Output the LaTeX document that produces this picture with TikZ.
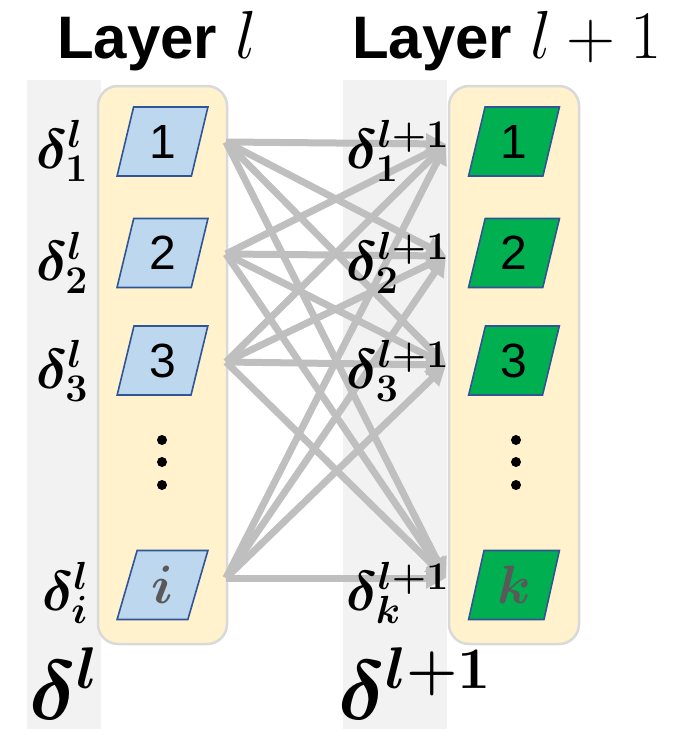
\RequirePackage{fix-cm}
\documentclass[tikz,border=0pt]{standalone}
\usepackage{bm}
\usepackage{fontspec}
\newfontfamily\sansfont{Liberation Sans}
\usetikzlibrary{shapes.geometric,arrows.meta}

\definecolor{stripgray}{HTML}{F2F2F2}
\definecolor{layerfill}{HTML}{FFF2CC}
\definecolor{layeredge}{HTML}{D9D9D9}
\definecolor{cellblue}{HTML}{BDD7EE}
\definecolor{cellgreen}{HTML}{00B050}
\definecolor{celledge}{HTML}{2F5597}
\definecolor{linkgray}{HTML}{BFBFBF}
\definecolor{indexgray}{HTML}{595959}

\newcommand{\mathbig}[1]{{\fontsize{68}{68}\selectfont$#1$}}

\tikzset{
  layerbox/.style={draw=layeredge, fill=layerfill, line width=2.5pt,
    rounded corners=20pt, inner sep=0pt},
  cell/.style={trapezium, trapezium left angle=77, trapezium right angle=103,
    trapezium stretches=true, minimum width=91pt, minimum height=69pt,
    draw=celledge, line width=1.6pt, inner sep=0pt,
    font=\sansfont\fontsize{48}{48}\selectfont},
  idx/.style={font=\fontsize{54}{54}\selectfont, text=indexgray},
  link/.style={draw=linkgray, line width=7pt,
    -{Triangle[length=20pt,width=20pt]}},
  vdot/.style={circle, fill=black, minimum size=10pt, inner sep=0pt},
  lab/.style={inner sep=0pt, font=\fontsize{56}{56}\selectfont},
  biglab/.style={inner sep=0pt, font=\fontsize{84}{84}\selectfont},
  title/.style={inner sep=0pt, font=\sansfont\bfseries\fontsize{60}{60}\selectfont},
}

\begin{document}
\begin{tikzpicture}[x=1pt,y=-1pt]
\useasboundingbox (0,0) rectangle (697,736);

% shaded columns behind the delta labels
\fill[stripgray] (27,80) rectangle (101,729);
\fill[stripgray] (343,80) rectangle (447,729);

% layer containers
\node[layerbox, minimum width=129pt, minimum height=558pt] (layerA) at (162.5,365) {};
\node[layerbox, minimum width=130pt, minimum height=558pt] (layerB) at (514,365) {};

% titles
\node[title, anchor=base west] (titleA) at (57,58) {Layer\hspace{18pt}\mathbig{l}};
\node[title, anchor=base west] (titleB) at (352,58) {Layer\hspace{18pt}\mathbig{l+1}};

% connector end points
\coordinate (s1) at (226,142);
\coordinate (s2) at (226,254);
\coordinate (s3) at (226,362);
\coordinate (si) at (226,578);
\coordinate (t1) at (446,144);
\coordinate (t2) at (446,256);
\coordinate (t3) at (446,365);
\coordinate (tk) at (446,578);

% full connections between the two layers
\foreach \s in {s1,s2,s3,si}
  \foreach \t in {t1,t2,t3,tk}
    \draw[link] (\s) -- (\t);

% neurons of layer l
\node[cell, fill=cellblue] (a1) at (162.5,141.5) {1};
\node[cell, fill=cellblue] (a2) at (162.5,253) {2};
\node[cell, fill=cellblue] (a3) at (162.5,360.5) {3};
\node[cell, fill=cellblue, idx] (ai) at (162.5,585) {$\bm{i}$};

% neurons of layer l+1
\node[cell, fill=cellgreen] (b1) at (514,141.5) {1};
\node[cell, fill=cellgreen] (b2) at (514,253) {2};
\node[cell, fill=cellgreen] (b3) at (514,360.5) {3};
\node[cell, fill=cellgreen, idx] (bk) at (514,585) {$\bm{k}$};

% vertical ellipses
\node[vdot] (ea1) at (162,440) {};
\node[vdot] (ea2) at (162,462) {};
\node[vdot] (ea3) at (162,485) {};
\node[vdot] (eb1) at (516,440) {};
\node[vdot] (eb2) at (516,462) {};
\node[vdot] (eb3) at (516,485) {};

% error terms of layer l
\node[lab, anchor=base west] (da1) at (36,168) {$\bm{\delta^{l}_{1}}$};
\node[lab, anchor=base west] (da2) at (36,280) {$\bm{\delta^{l}_{2}}$};
\node[lab, anchor=base west] (da3) at (36,388) {$\bm{\delta^{l}_{3}}$};
\node[lab, anchor=base west] (dai) at (42,610) {$\bm{\delta^{l}_{i}}$};

% error terms of layer l+1
\node[lab, anchor=base east] (db1) at (449,168) {$\bm{\delta^{l+1}_{1}}$};
\node[lab, anchor=base east] (db2) at (449,280) {$\bm{\delta^{l+1}_{2}}$};
\node[lab, anchor=base east] (db3) at (449,388) {$\bm{\delta^{l+1}_{3}}$};
\node[lab, anchor=base east] (dbk) at (449,610) {$\bm{\delta^{l+1}_{k}}$};

% layer-wide error vectors
\node[biglab, anchor=base west] (deltaA) at (29,719) {$\bm{\delta^{l}}$};
\node[biglab, anchor=base west] (deltaB) at (338,719) {$\bm{\delta^{l+1}}$};
\end{tikzpicture}
\end{document}
